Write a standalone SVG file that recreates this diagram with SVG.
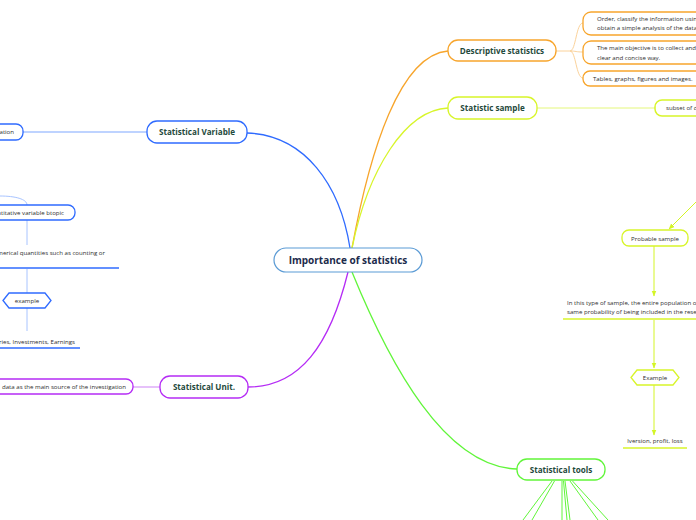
<svg xmlns="http://www.w3.org/2000/svg" width="696" height="520" viewBox="0 0 696 520">
<defs>
<marker id="ah" viewBox="0 0 10 10" refX="9" refY="5" markerWidth="6" markerHeight="6" orient="auto"><path d="M0,1 L10,5 L0,9 z" fill="#d4f526"/></marker>
<style>
.main{font-family:"Open Sans","Noto Sans",sans-serif;font-weight:bold;font-size:8.1px;fill:#1f4a3c;text-anchor:middle}
.ctr{font-family:"Open Sans","Noto Sans",sans-serif;font-weight:bold;font-size:10px;fill:#1c2b4b;text-anchor:middle}
.sm{font-family:"Open Sans","Noto Sans",sans-serif;font-size:6.1px;fill:#2e2e2e}
</style>
</defs>
<rect width="696" height="520" fill="#fff"/>
<g id="connectors" fill="none">
<path d="M350 248 C340 185 305 135 247 133" stroke="#2f6bff" stroke-width="1.3"/>
<path d="M352 248 C370 150 400 55 448 51" stroke="#f7a52c" stroke-width="1.3"/>
<path d="M352 248 C368 170 405 110 448 108" stroke="#d8f52a" stroke-width="1.3"/>
<path d="M348 272 C330 345 300 387 248 387" stroke="#b52cf5" stroke-width="1.3"/>
<path d="M352 272 C390 365 445 467 517 469" stroke="#61f53a" stroke-width="1.3"/>
<path d="M147 132 L23 132" stroke="#a8c4ff" stroke-width="1.3"/>
<path d="M0 196 C15 196 27 199 27 205" stroke="#a8c4ff" stroke-width="1"/>
<path d="M27 220 L27 245 M27 269 L27 293 M27 308 L27 331" stroke="#a8c4ff" stroke-width="1"/>
<path d="M160 387 L133 387" stroke="#d9a0f7" stroke-width="1.3"/>
<path d="M556 51 L570 51 C576 51 576 23 583 23 M570 51 C576 51 576 52 583 52 M570 51 C576 51 576 78 583 78" stroke="#fbd29a" stroke-width="1"/>
<path d="M537 108 L655 108" stroke="#e4f77a" stroke-width="1"/>
<path d="M700 198 L669 229" stroke="#d4f526" stroke-width="1" marker-end="url(#ah)"/>
<path d="M654 246 L654 296" stroke="#d4f526" stroke-width="1" marker-end="url(#ah)"/>
<path d="M654 320 L654 368" stroke="#d4f526" stroke-width="1" marker-end="url(#ah)"/>
<path d="M654 385 L654 435" stroke="#d4f526" stroke-width="1" marker-end="url(#ah)"/>
<path d="M552 481 L523 520 M554.5 481 L532 520 M562 481 L562 520 M563.5 481 L567 520 M565 481 L570 520 M570 481 L598 520 M572.5 481 L608 520" stroke="#61f53a" stroke-width="1"/>
</g>
<g id="central"><rect x="274" y="248" width="148" height="24" rx="12" fill="#fff" stroke="#5b9bd5" stroke-width="1.2"/><text class="ctr" x="348" y="264">Importance of statistics</text></g>
<g id="statistical-variable"><rect x="147" y="121" width="100" height="22" rx="10" fill="#fff" stroke="#2f6bff" stroke-width="1.3"/><text class="main" x="197" y="135">Statistical Variable</text></g>
<g id="sv-child"><rect x="-20" y="124" width="43" height="16" rx="7" fill="#fff" stroke="#2f6bff" stroke-width="1.3"/><text class="sm" x="14" y="134" text-anchor="end">ation</text></g>
<g id="quant-topic"><rect x="-20" y="205" width="95" height="15" rx="7" fill="#fff" stroke="#2f6bff" stroke-width="1.3"/><text class="sm" x="64" y="215" text-anchor="end">ntitative variable btopic</text></g>
<g id="quant-desc"><text class="sm" x="105" y="255" text-anchor="end">merical quantities such as counting or</text><line x1="0" y1="268" x2="119" y2="268" stroke="#2f6bff" stroke-width="1.5"/></g>
<g id="example-left"><polygon points="3,300.5 9,293 45,293 51,300.5 45,308 9,308" fill="#fff" stroke="#2f6bff" stroke-width="1.3"/><text class="sm" x="27" y="302.5" text-anchor="middle">example</text></g>
<g id="example-left-text"><text class="sm" x="75" y="344" text-anchor="end">ries, Investments, Earnings</text><line x1="0" y1="348" x2="80" y2="348" stroke="#2f6bff" stroke-width="1.5"/></g>
<g id="statistical-unit"><rect x="160" y="376" width="88" height="22" rx="10" fill="#fff" stroke="#b52cf5" stroke-width="1.3"/><text class="main" x="204" y="390">Statistical Unit.</text></g>
<g id="su-child"><rect x="-20" y="379" width="153" height="15" rx="7" fill="#fff" stroke="#b52cf5" stroke-width="1.3"/><text class="sm" x="2" y="389">data as the main source of the investigation</text></g>
<g id="descriptive"><rect x="448" y="40" width="108" height="21" rx="10" fill="#fff" stroke="#f7a52c" stroke-width="1.3"/><text class="main" x="502" y="54">Descriptive statistics</text></g>
<g id="desc-1"><rect x="583" y="12" width="130" height="23" rx="8" fill="#fff" stroke="#f7a52c" stroke-width="1.3"/><text class="sm" x="597" y="21">Order, classify the information using</text><text class="sm" x="597" y="30">obtain a simple analysis of the data.</text></g>
<g id="desc-2"><rect x="583" y="41" width="130" height="23" rx="8" fill="#fff" stroke="#f7a52c" stroke-width="1.3"/><text class="sm" x="597" y="50">The main objective is to collect and</text><text class="sm" x="597" y="60">clear and concise way.</text></g>
<g id="desc-3"><rect x="583" y="71" width="130" height="15" rx="7" fill="#fff" stroke="#f7a52c" stroke-width="1.3"/><text class="sm" x="593" y="81">Tables, graphs, figures and images.</text></g>
<g id="statistic-sample"><rect x="448" y="97" width="89" height="22" rx="10" fill="#fff" stroke="#d8f52a" stroke-width="1.3"/><text class="main" x="492.5" y="111">Statistic sample</text></g>
<g id="subset"><rect x="655" y="100" width="60" height="16" rx="7" fill="#fff" stroke="#d8f52a" stroke-width="1.5"/><text class="sm" x="666" y="110">subset of d</text></g>
<g id="probable"><rect x="622" y="230" width="66" height="16" rx="7" fill="#fff" stroke="#d8f52a" stroke-width="1.3"/><text class="sm" x="655" y="240.5" text-anchor="middle">Probable sample</text></g>
<g id="prob-desc"><text class="sm" x="567" y="305">In this type of sample, the entire population or</text><text class="sm" x="567" y="314">same probability of being included in the resea</text><line x1="563" y1="319" x2="700" y2="319" stroke="#d8f52a" stroke-width="1.5"/></g>
<g id="example-right"><polygon points="631,377.5 637,370 673,370 679,377.5 673,385 637,385" fill="#fff" stroke="#d8f52a" stroke-width="1.3"/><text class="sm" x="655" y="379.5" text-anchor="middle">Example</text></g>
<g id="example-right-text"><text class="sm" x="655" y="443" text-anchor="middle">lversion, profit, loss</text><line x1="623" y1="448" x2="687" y2="448" stroke="#d8f52a" stroke-width="1.5"/></g>
<g id="statistical-tools"><rect x="517" y="459" width="88" height="21" rx="10" fill="#fff" stroke="#61f53a" stroke-width="1.3"/><text class="main" x="561" y="472.5">Statistical tools</text></g>
</svg>
